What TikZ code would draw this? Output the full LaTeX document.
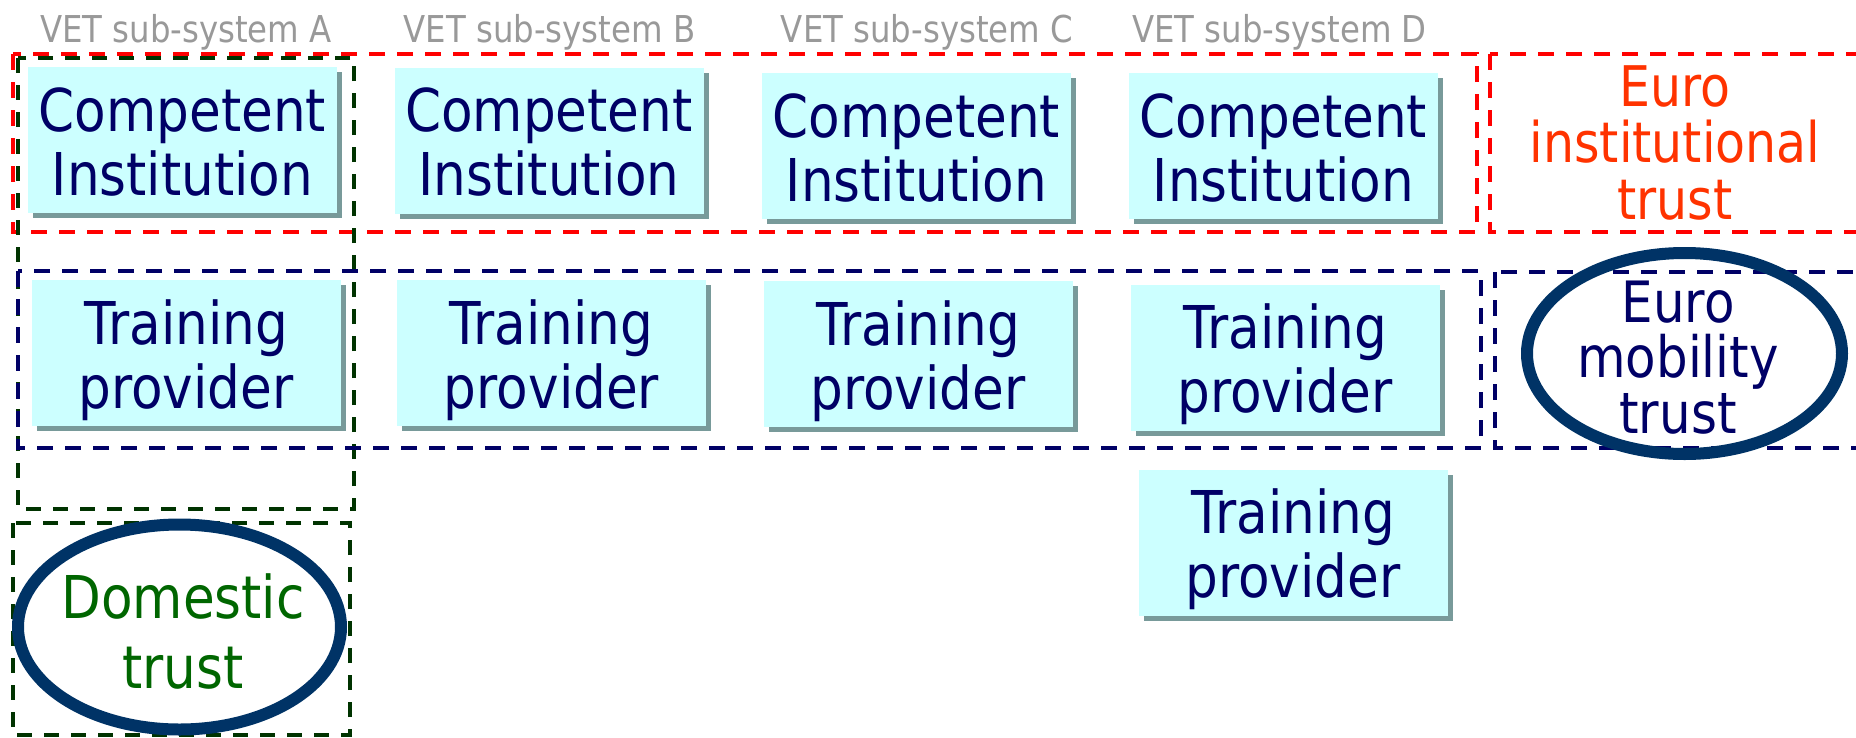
\documentclass[tikz,border=0pt]{standalone}
\usepackage{fontspec}
\setmainfont{DejaVu Sans}[FakeStretch=0.875]
\usetikzlibrary{shadows,shapes.geometric}
\definecolor{boxfill}{HTML}{CCFFFF}
\definecolor{shadowc}{HTML}{789A9A}
\definecolor{navytext}{HTML}{000066}
\definecolor{ellc}{HTML}{003366}
\definecolor{redframe}{HTML}{FF0000}
\definecolor{eurored}{HTML}{FF3300}
\definecolor{greentext}{HTML}{006600}
\definecolor{greenframe}{HTML}{003300}
\definecolor{navyframe}{HTML}{000066}
\definecolor{hdrgray}{HTML}{999999}
\newcommand\mytopstrut{\rule{0pt}{60pt}}
\newcommand\mybotstrut{\rule[-14pt]{0pt}{14pt}}
\begin{document}
\begin{tikzpicture}[x=1pt,y=-1pt,
  hdr/.style={text=hdrgray, font=\fontsize{37}{40}\selectfont, anchor=base, inner sep=0pt},
  frameR/.style={draw=redframe, line width=4.5pt, dash pattern=on 16pt off 12pt},
  frameG/.style={draw=greenframe, line width=4.5pt, dash pattern=on 15pt off 12pt},
  frameN/.style={draw=navyframe, line width=4.5pt, dash pattern=on 16pt off 12pt},
  tbox/.style={rectangle, fill=boxfill, minimum width=309pt, minimum height=146pt,
    inner sep=0pt, text=navytext, align=center, font=\fontsize{59}{64}\selectfont,
    drop shadow={shadow xshift=5pt, shadow yshift=-5pt, fill=shadowc, opacity=1}},
  ell/.style={ellipse, draw=ellc, line width=12pt, inner sep=0pt},
  freetxt/.style={inner sep=0pt, align=center, anchor=north}
]
\useasboundingbox (0,0) rectangle (1856,737);

% headers
\node[hdr] (hA) at (186,42) {VET sub-system A};
\node[hdr] (hB) at (549.5,42) {VET sub-system B};
\node[hdr] (hC) at (927,42) {VET sub-system C};
\node[hdr] (hD) at (1279.5,42) {VET sub-system D};

% dashed frames
\draw[frameR] (13,54) rectangle (1477,232);
\draw[frameR] (1490,54) rectangle (1890,232);
\draw[frameG] (18,58) rectangle (354,509);
\draw[frameG] (13,523) rectangle (350,735);
\draw[frameN] (18,271) rectangle (1481,448);
\draw[frameN] (1495,272) rectangle (1890,448);

% competent institutions
\node[tbox] (ciA) at (182.5,140) {\mytopstrut Competent\\Institution\mybotstrut};
\node[tbox] (ciB) at (549,140.5) {\mytopstrut Competent\\Institution\mybotstrut};
\node[tbox] (ciC) at (916.5,146) {\mytopstrut Competent\\Institution\mybotstrut};
\node[tbox] (ciD) at (1283.5,146) {\mytopstrut Competent\\Institution\mybotstrut};

% training providers
\node[tbox] (tpA) at (186,353) {\mytopstrut Training\\provider\mybotstrut};
\node[tbox] (tpB) at (551.5,353) {\mytopstrut Training\\provider\mybotstrut};
\node[tbox] (tpC) at (918,354) {\mytopstrut Training\\provider\mybotstrut};
\node[tbox] (tpD) at (1285,357.5) {\mytopstrut Training\\provider\mybotstrut};
\node[tbox] (tpE) at (1293,542.5) {\mytopstrut Training\\provider\mybotstrut};

% euro institutional trust
\node[freetxt, text=eurored, font=\fontsize{56}{56.5}\selectfont] (einst) at (1675,56)
  {\rule{0pt}{50pt}Euro\\institutional\\trust};

% ellipses
\node[ell, minimum width=315pt, minimum height=201pt] (emob) at (1684.5,353.5) {};
\node[freetxt, text=navytext, font=\fontsize{57}{55.5}\selectfont] (emobtxt) at (1678,272)
  {\rule{0pt}{50pt}Euro\\mobility\\trust};
\node[ell, minimum width=323pt, minimum height=205pt] (dom) at (179.5,627) {};
\node[freetxt, text=greentext, font=\fontsize{59}{70}\selectfont] (domtxt) at (183,568)
  {\rule{0pt}{50pt}Domestic\\trust};
\end{tikzpicture}
\end{document}
